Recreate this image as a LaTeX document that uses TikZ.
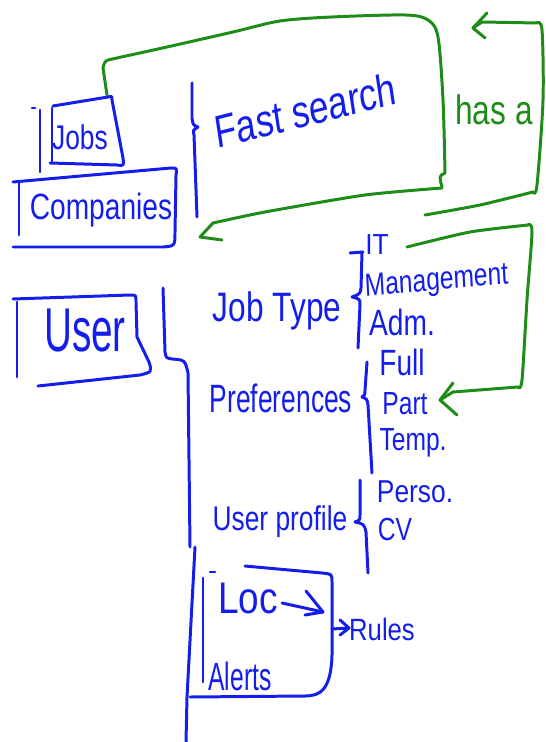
\documentclass[tikz,border=0pt]{standalone}
\usepackage{fontspec}
\setmainfont{Liberation Sans}
\definecolor{pen}{RGB}{20,30,235}
\definecolor{grn}{RGB}{30,140,25}
\newcommand\myfs[1]{\fontsize{#1}{#1}\selectfont}
\begin{document}
\begin{tikzpicture}[x=0.02cm,y=-0.02cm,
  ink/.style={draw=pen,line width=1.7pt,line cap=round,line join=round},
  gink/.style={draw=grn,line width=1.7pt,line cap=round,line join=round},
  lbl/.style={text=pen,inner sep=0pt,anchor=base},
  glbl/.style={text=grn,inner sep=0pt,anchor=base}]
\useasboundingbox (0,0) rectangle (545,742);

% ---------- texts ----------
\node[lbl,font=\myfs{15},yscale=1.3] (jobs) at (80,150) {Jobs};
\node[lbl,font=\myfs{16},yscale=1.3] (companies) at (101,220) {Companies};
\node[lbl,font=\myfs{20},yscale=1.3,rotate=11] (fast) at (308,126) {Fast search};
\node[glbl,font=\myfs{18},yscale=1.3] (hasa) at (494,125) {has a};
\node[lbl,font=\myfs{22},yscale=1.6] (user) at (85,352) {User};
\node[lbl,font=\myfs{18},yscale=1.3] (jobtype) at (277,322) {Job Type};
\node[lbl,font=\myfs{15},yscale=1.1] (it) at (377,255) {IT};
\node[lbl,font=\myfs{14},yscale=1.3,rotate=4] (mgmt) at (437,290) {Management};
\node[lbl,font=\myfs{16},yscale=1.3] (adm) at (402,336) {Adm.};
\node[lbl,font=\myfs{15},yscale=1.5] (prefs) at (281,412) {Preferences};
\node[lbl,font=\myfs{16},yscale=1.3] (full) at (402,376) {Full};
\node[lbl,font=\myfs{14},yscale=1.3] (part) at (405,414) {Part};
\node[lbl,font=\myfs{14},yscale=1.3] (temp) at (413,450) {Temp.};
\node[lbl,font=\myfs{15},yscale=1.3] (uprof) at (280,530) {User profile};
\node[lbl,font=\myfs{15},yscale=1.2] (perso) at (415,502) {Perso.};
\node[lbl,font=\myfs{14},yscale=1.3] (cv) at (395,540) {CV};
\node[lbl,font=\myfs{21},yscale=1.2] (loc) at (248,613) {Loc};
\node[lbl,font=\myfs{14},yscale=1.6] (alerts) at (240,690) {Alerts};
\node[lbl,font=\myfs{14.6},yscale=1.2] (rules) at (382,640) {Rules};

% ---------- Jobs box ----------
\draw[ink] (32,108) -- (35,108);
\draw[ink] (40,110) -- (40,172);
\draw[ink] (52,108) -- (52,163);
\draw[ink] (53,106) -- (108,97) .. controls (112,96) .. (112,100)
  -- (123,158) .. controls (124,166) .. (117,165) -- (50,163);

% ---------- Companies box ----------
\draw[ink] (19,182) -- (19,235);
\draw[ink] (13,182) -- (171,168) .. controls (177,168) .. (176,175)
  -- (175,232) .. controls (175,246) .. (163,247) -- (13,247);

% ---------- Fast search brace ----------
\draw[ink] (192,83) -- (192,118) .. controls (193,125) .. (198,127)
  .. controls (193,130) .. (194,135) -- (197,217);

% ---------- green loop 1 (Jobs -> Fast search) ----------
\coordinate (g1s) at (107,95);
\coordinate (g1t) at (200,237);
\draw[gink] (g1s) -- (103,68) plot[smooth,tension=0.5] coordinates
  {(103,68) (106,61) (117,58) (167,47) (233,32) (280,21) (332,17) (405,15)
   (428,20) (438,37) (443,100) (445,173)};
\draw[gink] (445,173) .. controls (439,176) .. (442,187);
\draw[gink] plot[smooth,tension=0.4] coordinates
  {(442,188) (365,195) (265,212) (213,223)};
\draw[gink] (213,223) -- (g1t) -- (222,240);

% ---------- green loop 2 (has a) ----------
\coordinate (g2t) at (473,28);
\draw[gink] plot[smooth,tension=0.4] coordinates {(425,215) (480,205) (533,192)};
\draw[gink] plot[smooth,tension=0.5] coordinates
  {(533,192) (537,185) (543,100) (542,30) (537,23)};
\draw[gink] (537,23) -- (482,22) -- (g2t);
\draw[gink] (487,13) -- (g2t) -- (485,38);

% ---------- green loop 3 (to Part) ----------
\coordinate (g3t) at (440,400);
\draw[gink] plot[smooth,tension=0.4] coordinates {(407,247) (470,232) (528,225)};
\draw[gink] plot[smooth,tension=0.5] coordinates
  {(528,225) (532,232) (527,300) (522,380) (518,387)};
\draw[gink] (518,387) -- (453,392) -- (g3t);
\draw[gink] (453,383) -- (g3t) -- (457,415);

% ---------- User box ----------
\draw[ink] (17,302) -- (17,377);
\draw[ink] (13,299) -- (130,295) .. controls (136,295) .. (136,302)
  -- (137,337) -- (149,362) .. controls (152,372) .. (140,375)
  -- (38,386);

% ---------- main brace ----------
\draw[ink] (163,288) -- (165,352) .. controls (166,358) .. (172,359)
  .. controls (185,360) .. (188,373) -- (190,547);
\draw[ink] (195,547) -- (187,697) -- (186,742);

% ---------- Job Type brace ----------
\draw[ink] (350,253) -- (363,252);
\draw[ink] (362,252) -- (361,288) .. controls (360,294) .. (352,297)
  .. controls (360,299) .. (360,305) -- (358,348);

% ---------- Preferences brace ----------
\draw[ink] (367,362) -- (365,390) .. controls (365,395) .. (362,397)
  .. controls (367,399) .. (368,405) -- (372,473);

% ---------- User profile brace ----------
\draw[ink] (360,480) -- (360,515) .. controls (360,520) .. (355,522)
  .. controls (364,524) .. (366,532) -- (368,573);

% ---------- Loc / Alerts box ----------
\draw[ink] (210,572) -- (215,572);
\draw[ink] (203,578) -- (203,682);
\draw[ink] (245,566) -- (322,573) .. controls (332,574) .. (332,582)
  -- (332,655) .. controls (331,690) and (320,696) .. (305,696)
  -- (190,697);

% Loc arrow
\coordinate (locend) at (323,612);
\draw[ink] (loc.base east) ++(4,-10) -- (locend);
\draw[ink] (306,591) -- (locend) -- (305,615);

% Rules arrow
\coordinate (rulesbox) at (332,629);
\coordinate (rulestip) at (349,628);
\draw[ink] (rulesbox) -- (rulestip);
\draw[ink] (340,620) -- (rulestip) -- (340,635);
\end{tikzpicture}
\end{document}
